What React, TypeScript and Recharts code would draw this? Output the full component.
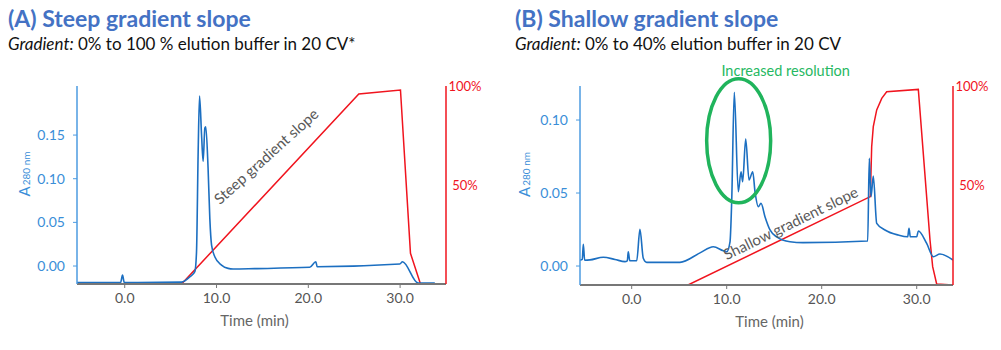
import { ComposedChart, Line, XAxis, YAxis, ReferenceDot } from 'recharts';

const BLUE = '#1c6fc1';
const AXIS_BLUE = '#4c9be0';
const TICK_BLUE = '#3a8ed8';
const RED = '#f0141e';
const GREEN = '#20b45c';
const GREY = '#666666';
const FONT = 'Lato, "Open Sans", sans-serif';

const timeTicks = [0, 10, 20, 30];
const pctTicks = [50, 100];

// (A) steep gradient run
const steepTime = [-5.2, -0.45, -0.24, -0.05, 6.19, 7.09, 7.64, 7.82, 8.0, 8.15, 8.37, 8.54, 8.73, 8.83, 9.08, 9.27, 9.46, 9.81, 10.54, 11.26, 11.8, 14.17, 20.16, 20.82, 20.96, 29.97, 30.26, 31.96, 33.78];
const steepAbs = [-0.019, -0.019, -0.0103, -0.019, -0.0185, -0.0125, -0.0065, 0.016, 0.131, 0.1947, 0.15, 0.12, 0.158, 0.1596, 0.112, 0.0546, 0.024, 0.0107, 0.0011, -0.0027, -0.0034, -0.003, -0.0015, 0.0049, -0.0008, 0.0023, 0.0049, -0.0195, -0.0195];
const steepGradTime = [-5.2, 6.19, 25.5, 30.04, 31.13, 32.22, 33.78];
const steepGradPct = [0, 0, 96, 98, 15.5, 0, 0];
const steepAbsTicks = [0, 0.05, 0.1, 0.15];

// (B) shallow gradient run
const shallowTime = [-5.44, -5.2, -5.09, -4.95, -4.39, -2.99, -1.76, -0.71, -0.46, -0.36, -0.2, 0.53, 0.87, 1.22, 1.58, 5.08, 7.19, 8.59, 9.64, 10.0, 10.35, 10.53, 10.8, 11.22, 11.51, 11.68, 12.0, 12.35, 12.74, 12.98, 13.33, 13.61, 14.03, 14.56, 15.26, 16.66, 18.03, 24.84, 25.01, 25.19, 25.43, 25.79, 26.66, 28.06, 29.05, 29.19, 29.33, 30.0, 30.17, 31.05, 31.75, 32.45, 33.82];
const shallowAbs = [0.004, 0.0045, 0.0149, 0.004, 0.0042, 0.006, 0.0045, 0.003, 0.0035, 0.0098, 0.0036, 0.0036, 0.0251, 0.0053, 0.0025, 0.0025, 0.009, 0.0132, 0.0105, 0.0098, 0.0166, 0.045, 0.119, 0.0509, 0.0646, 0.0577, 0.087, 0.0589, 0.0646, 0.0509, 0.0406, 0.043, 0.0338, 0.0247, 0.02, 0.0166, 0.016, 0.0171, 0.0738, 0.0475, 0.0616, 0.0292, 0.0247, 0.0212, 0.02, 0.0258, 0.02, 0.02, 0.024, 0.0155, 0.0064, 0.0082, 0.0041];
const shallowGradTime = [-5.44, 5.93, 25.12, 25.26, 25.43, 25.79, 26.32, 26.84, 30.17, 31.4, 31.68, 32.1, 33.82];
const shallowGradPct = [0, 0, 44.4, 69.5, 79.6, 88, 93.8, 97.1, 98.3, 22.6, 9.2, 0.5, 0];
const shallowAbsTicks = [0, 0.05, 0.1];

const zip = (ts: number[], vs: number[], key: string) => ts.map((t, i) => ({ t, [key]: vs[i] }));

const PctTick = ({ x, y, payload }: any) => (
  <text x={x + 19} y={y} dy="0.35em" textAnchor="middle" fill={RED} fontSize={13} fontFamily={FONT}>{payload.value}%</text>
);

const absLabel = (dx: number, dy: number) => (p: any) => {
  const vb = p.viewBox;
  const cx = vb.x + dx;
  const cy = vb.y + vb.height / 2 + dy;
  return (
    <text transform={`rotate(-90 ${cx} ${cy})`} x={cx} y={cy} textAnchor="middle" fill={TICK_BLUE} fontFamily={FONT}>
      <tspan fontSize={15}>A</tspan>
      <tspan fontSize={10} dx={1}>280 nm</tspan>
    </text>
  );
};

const timeLabel = (dx: number) => (p: any) => {
  const vb = p.viewBox;
  return (
    <text x={vb.x + vb.width / 2 + dx} y={vb.y + 42} textAnchor="middle" fill={GREY} fontSize={15} fontFamily={FONT}>Time (min)</text>
  );
};

const slopeText = (text: string, angle: number) => (p: any) => (
  <text x={p.cx} y={p.cy} dy="0.35em" textAnchor="middle" fill="#595959" fontSize={15} fontFamily={FONT}
    transform={`rotate(${angle} ${p.cx} ${p.cy})`}>{text}</text>
);

const ResolutionMark = (p: any) => (
  <g>
    <ellipse cx={p.cx} cy={p.cy} rx={32} ry={62} fill="none" stroke={GREEN} strokeWidth={3.5} />
    <text x={p.cx + 47} y={p.cy - 70} dy="0.35em" textAnchor="middle" fill="#26b862" fontSize={14.5} fontFamily={FONT}>Increased resolution</text>
  </g>
);

function Panel({ left, width, margin, yLeftWidth, yRightWidth, xDomain, yDomain, absTicks, uv, grad, labelDx, children }: any) {
  return (
    <div style={{ position: 'absolute', left, top: 0 }}>
      <ComposedChart width={width} height={350} margin={margin}>
        <XAxis dataKey="t" type="number" domain={xDomain} ticks={timeTicks} allowDataOverflow
          tickFormatter={(v: number) => v.toFixed(1)} interval={0}
          axisLine={{ stroke: '#777', strokeWidth: 2 }} tickLine={{ stroke: '#777' }} tickSize={4} tickMargin={5}
          tick={{ fill: '#555', fontSize: 14, fontFamily: FONT }} height={30} label={timeLabel(labelDx)} />
        <YAxis yAxisId="abs" type="number" domain={yDomain} ticks={absTicks} allowDataOverflow width={yLeftWidth}
          tickFormatter={(v: number) => v.toFixed(2)} interval={0}
          axisLine={{ stroke: AXIS_BLUE, strokeWidth: 1.5 }} tickLine={{ stroke: AXIS_BLUE }} tickSize={4} tickMargin={8}
          tick={{ fill: TICK_BLUE, fontSize: 14, fontFamily: FONT }} label={absLabel(10, -11)} />
        <YAxis yAxisId="pct" orientation="right" type="number" domain={[0, 100]} ticks={pctTicks} allowDataOverflow
          width={yRightWidth} interval={0} axisLine={{ stroke: RED, strokeWidth: 1.5 }} tickLine={false}
          tickSize={0} tickMargin={0} tick={<PctTick />} />
        <Line yAxisId="pct" data={grad} dataKey="pct" type="linear" stroke={RED} strokeWidth={1.5}
          dot={false} activeDot={false} isAnimationActive={false} />
        <Line yAxisId="abs" data={uv} dataKey="abs" type="monotone" stroke={BLUE} strokeWidth={1.6}
          dot={false} activeDot={false} isAnimationActive={false} />
        {children}
      </ComposedChart>
    </div>
  );
}

const titleStyle: any = { position: 'absolute', fontFamily: FONT, fontWeight: 700, fontSize: 23, lineHeight: 1, color: '#4472c4', whiteSpace: 'nowrap' };
const subStyle: any = { position: 'absolute', fontFamily: FONT, fontSize: 17, lineHeight: 1, color: '#111', whiteSpace: 'nowrap' };

export default function App() {
  return (
    <div style={{ position: 'absolute', left: 0, top: 0, width: 1001, height: 350, background: '#fff', overflow: 'hidden' }}>
      <div style={{ ...titleStyle, left: 8, top: 7 }}>(A) Steep gradient slope</div>
      <div style={{ ...subStyle, left: 8, top: 35 }}><i>Gradient:</i> 0% to 100 % elution buffer in 20 CV*</div>
      <div style={{ ...titleStyle, left: 515, top: 7 }}>(B) Shallow gradient slope</div>
      <div style={{ ...subStyle, left: 515, top: 35 }}><i>Gradient:</i> 0% to 40% elution buffer in 20 CV</div>

      <Panel left={0} width={500} margin={{ top: 86, right: 4, bottom: 36, left: 20 }} yLeftWidth={57} yRightWidth={50}
        xDomain={[-5.2, 35.0]} yDomain={[-0.0206, 0.2062]} absTicks={steepAbsTicks}
        uv={zip(steepTime, steepAbs, 'abs')} grad={zip(steepGradTime, steepGradPct, 'pct')} labelDx={-7}>
        <ReferenceDot yAxisId="pct" x={15.42} y={64.4} r={0} ifOverflow="visible"
          shape={slopeText('Steep gradient slope', -42)} />
      </Panel>

      <Panel left={500} width={501} margin={{ top: 86, right: 8, bottom: 35, left: 20 }} yLeftWidth={60} yRightWidth={40}
        xDomain={[-5.44, 33.82]} yDomain={[-0.013, 0.1233]} absTicks={shallowAbsTicks}
        uv={zip(shallowTime, shallowAbs, 'abs')} grad={zip(shallowGradTime, shallowGradPct, 'pct')} labelDx={3}>
        <ReferenceDot yAxisId="pct" x={16.75} y={31} r={0} ifOverflow="visible"
          shape={slopeText('Shallow gradient slope', -26)} />
        <ReferenceDot yAxisId="abs" x={11.26} y={0.0858} r={0} ifOverflow="visible" shape={ResolutionMark} />
      </Panel>
    </div>
  );
}
